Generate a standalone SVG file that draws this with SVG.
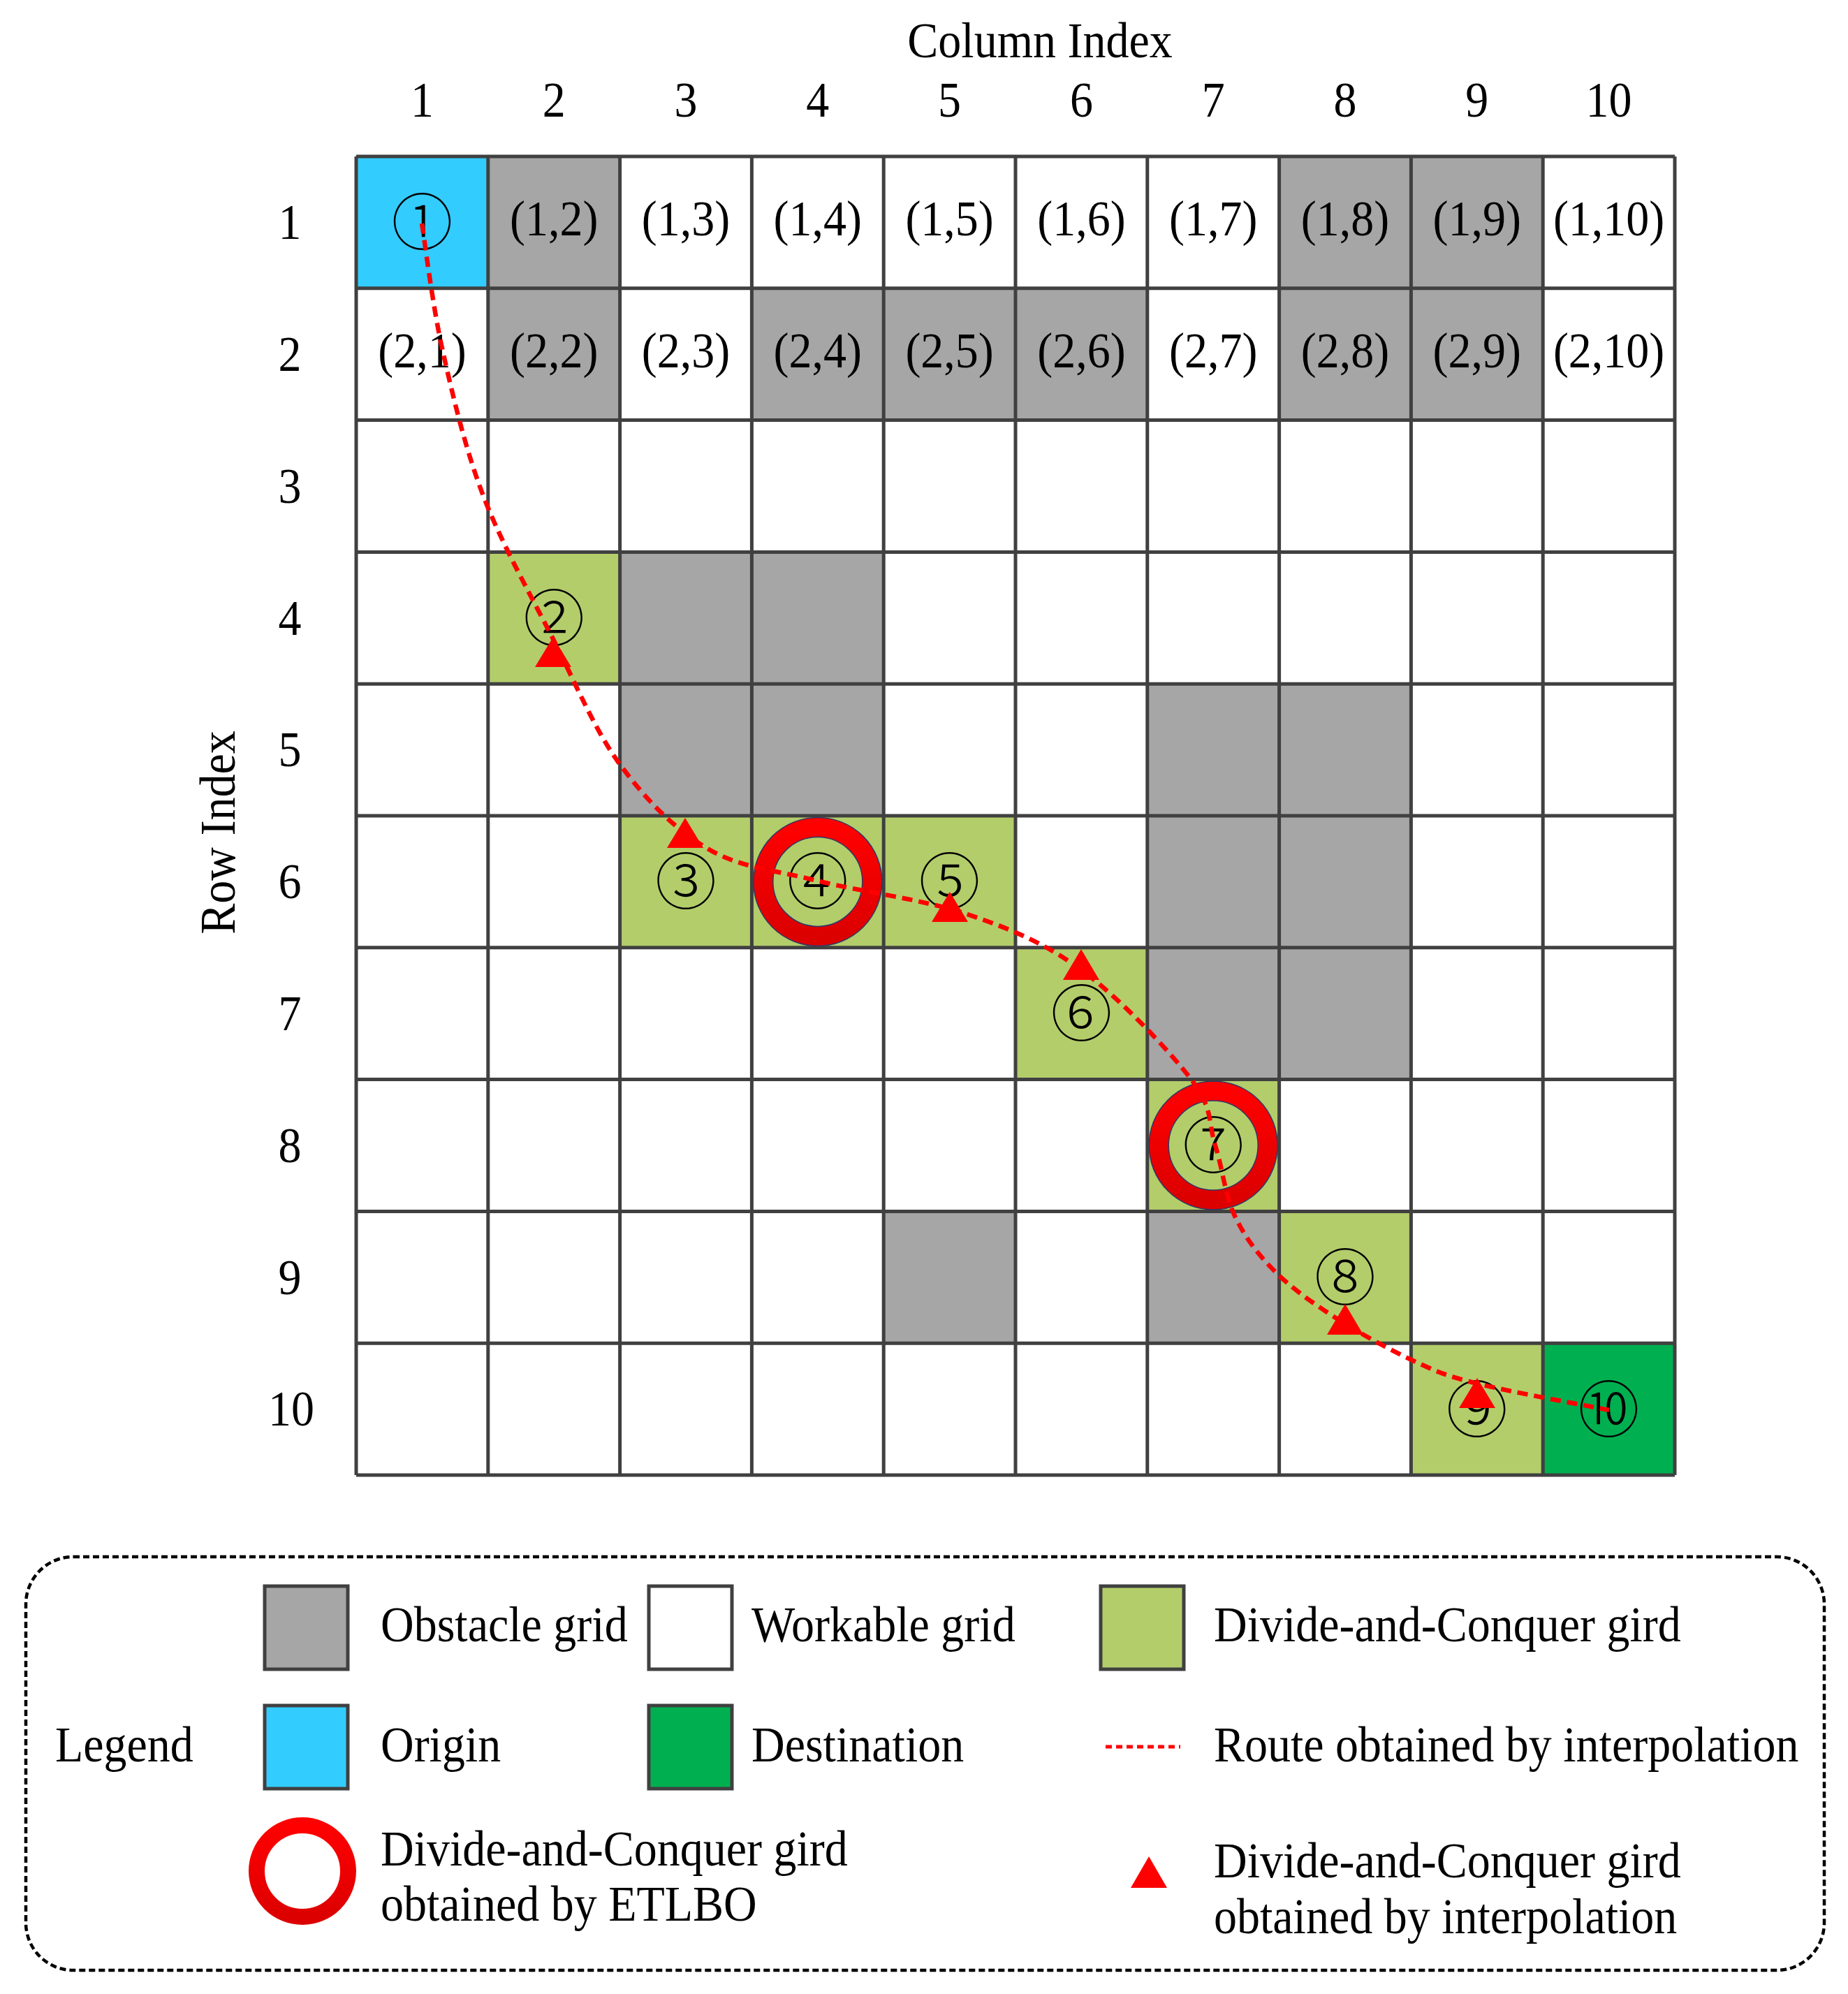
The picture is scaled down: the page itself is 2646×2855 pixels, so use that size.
<svg xmlns="http://www.w3.org/2000/svg" width="2646" height="2855" viewBox="0 0 2646 2855">
<style>
.t{font-family:"Liberation Serif","Times New Roman",serif;font-size:66px;fill:#000}
.m{text-anchor:middle}
.cn{font-family:"Noto Sans CJK SC","DejaVu Sans",sans-serif;font-size:88px;font-weight:300;fill:#000;text-anchor:middle}
.obs{fill:#A6A6A6}
.grn{fill:#B3CD6B}
.org{fill:#33CCFF}
.dst{fill:#00B050}
.lsq{stroke:#404040;stroke-width:5}
.ring{fill:none;stroke:url(#rg);stroke-width:28}
.ringe{fill:none;stroke:#2E3A66;stroke-width:1.5}
.tri{fill:#FF0000}
</style>
<defs>
<linearGradient id="rg" x1="0" y1="0" x2="0" y2="1">
<stop offset="0" stop-color="#FF0000"/>
<stop offset="1" stop-color="#DC0000"/>
</linearGradient>
</defs>
<rect width="2646" height="2855" fill="#fff"/>

<g id="axis-labels">
<text class="t m" transform="translate(1489,82) scale(1,1.1)">Column Index</text>
<text class="t m" transform="translate(604.4,167) scale(1,1.1)">1</text>
<text class="t m" transform="translate(793.2,167) scale(1,1.1)">2</text>
<text class="t m" transform="translate(982,167) scale(1,1.1)">3</text>
<text class="t m" transform="translate(1170.8,167) scale(1,1.1)">4</text>
<text class="t m" transform="translate(1359.6,167) scale(1,1.1)">5</text>
<text class="t m" transform="translate(1548.4,167) scale(1,1.1)">6</text>
<text class="t m" transform="translate(1737.2,167) scale(1,1.1)">7</text>
<text class="t m" transform="translate(1926,167) scale(1,1.1)">8</text>
<text class="t m" transform="translate(2114.8,167) scale(1,1.1)">9</text>
<text class="t m" transform="translate(2303.6,167) scale(1,1.1)">10</text>
<text class="t m" transform="translate(336,1192) rotate(-90) scale(1,1.1)">Row Index</text>
<text class="t m" transform="translate(415,342) scale(1,1.1)">1</text>
<text class="t m" transform="translate(415,531) scale(1,1.1)">2</text>
<text class="t m" transform="translate(415,720) scale(1,1.1)">3</text>
<text class="t m" transform="translate(415,909) scale(1,1.1)">4</text>
<text class="t m" transform="translate(415,1097) scale(1,1.1)">5</text>
<text class="t m" transform="translate(415,1286) scale(1,1.1)">6</text>
<text class="t m" transform="translate(415,1475) scale(1,1.1)">7</text>
<text class="t m" transform="translate(415,1664) scale(1,1.1)">8</text>
<text class="t m" transform="translate(415,1853) scale(1,1.1)">9</text>
<text class="t m" transform="translate(417,2041) scale(1,1.1)">10</text>
</g>

<g id="grid">
<rect x="510" y="224" width="1888" height="1888" fill="#fff"/>
<g id="obstacles" class="obs">
<rect x="698.8" y="224" width="188.8" height="188.8"/>
<rect x="1831.6" y="224" width="188.8" height="188.8"/>
<rect x="2020.4" y="224" width="188.8" height="188.8"/>
<rect x="698.8" y="412.8" width="188.8" height="188.8"/>
<rect x="1076.4" y="412.8" width="188.8" height="188.8"/>
<rect x="1265.2" y="412.8" width="188.8" height="188.8"/>
<rect x="1454" y="412.8" width="188.8" height="188.8"/>
<rect x="1831.6" y="412.8" width="188.8" height="188.8"/>
<rect x="2020.4" y="412.8" width="188.8" height="188.8"/>
<rect x="887.6" y="790.4" width="188.8" height="188.8"/>
<rect x="1076.4" y="790.4" width="188.8" height="188.8"/>
<rect x="887.6" y="979.2" width="188.8" height="188.8"/>
<rect x="1076.4" y="979.2" width="188.8" height="188.8"/>
<rect x="1642.8" y="979.2" width="188.8" height="188.8"/>
<rect x="1831.6" y="979.2" width="188.8" height="188.8"/>
<rect x="1642.8" y="1168" width="188.8" height="188.8"/>
<rect x="1831.6" y="1168" width="188.8" height="188.8"/>
<rect x="1642.8" y="1356.8" width="188.8" height="188.8"/>
<rect x="1831.6" y="1356.8" width="188.8" height="188.8"/>
<rect x="1265.2" y="1734.4" width="188.8" height="188.8"/>
<rect x="1642.8" y="1734.4" width="188.8" height="188.8"/>
</g>
<rect class="org" x="510" y="224" width="188.8" height="188.8"/>
<g class="grn">
<rect x="698.8" y="790.4" width="188.8" height="188.8"/>
<rect x="887.6" y="1168" width="188.8" height="188.8"/>
<rect x="1076.4" y="1168" width="188.8" height="188.8"/>
<rect x="1265.2" y="1168" width="188.8" height="188.8"/>
<rect x="1454" y="1356.8" width="188.8" height="188.8"/>
<rect x="1642.8" y="1545.6" width="188.8" height="188.8"/>
<rect x="1831.6" y="1734.4" width="188.8" height="188.8"/>
<rect x="2020.4" y="1923.2" width="188.8" height="188.8"/>
</g>
<rect class="dst" x="2209.2" y="1923.2" width="188.8" height="188.8"/>
<path fill="none" stroke="#404040" stroke-width="5" d="M510,224V2112M698.8,224V2112M887.6,224V2112M1076.4,224V2112M1265.2,224V2112M1454,224V2112M1642.8,224V2112M1831.6,224V2112M2020.4,224V2112M2209.2,224V2112M2398,224V2112M510,224H2398M510,412.8H2398M510,601.6H2398M510,790.4H2398M510,979.2H2398M510,1168H2398M510,1356.8H2398M510,1545.6H2398M510,1734.4H2398M510,1923.2H2398M510,2112H2398"/>
</g>

<g id="cell-labels">
<text class="t m" transform="translate(793.2,337) scale(1,1.1)">(1,2)</text>
<text class="t m" transform="translate(982,337) scale(1,1.1)">(1,3)</text>
<text class="t m" transform="translate(1170.8,337) scale(1,1.1)">(1,4)</text>
<text class="t m" transform="translate(1359.6,337) scale(1,1.1)">(1,5)</text>
<text class="t m" transform="translate(1548.4,337) scale(1,1.1)">(1,6)</text>
<text class="t m" transform="translate(1737.2,337) scale(1,1.1)">(1,7)</text>
<text class="t m" transform="translate(1926,337) scale(1,1.1)">(1,8)</text>
<text class="t m" transform="translate(2114.8,337) scale(1,1.1)">(1,9)</text>
<text class="t m" transform="translate(2303.6,337) scale(1,1.1)">(1,10)</text>
<text class="t m" transform="translate(604.4,526) scale(1,1.1)">(2,1)</text>
<text class="t m" transform="translate(793.2,526) scale(1,1.1)">(2,2)</text>
<text class="t m" transform="translate(982,526) scale(1,1.1)">(2,3)</text>
<text class="t m" transform="translate(1170.8,526) scale(1,1.1)">(2,4)</text>
<text class="t m" transform="translate(1359.6,526) scale(1,1.1)">(2,5)</text>
<text class="t m" transform="translate(1548.4,526) scale(1,1.1)">(2,6)</text>
<text class="t m" transform="translate(1737.2,526) scale(1,1.1)">(2,7)</text>
<text class="t m" transform="translate(1926,526) scale(1,1.1)">(2,8)</text>
<text class="t m" transform="translate(2114.8,526) scale(1,1.1)">(2,9)</text>
<text class="t m" transform="translate(2303.6,526) scale(1,1.1)">(2,10)</text>
</g>

<g id="etlbo-rings">
<g id="ring-4">
<circle class="ring" cx="1170.8" cy="1262.4" r="78"/>
<circle class="ringe" cx="1170.8" cy="1262.4" r="92"/>
<circle class="ringe" cx="1170.8" cy="1262.4" r="64"/>
</g>
<g id="ring-7">
<circle class="ring" cx="1737.2" cy="1640" r="78"/>
<circle class="ringe" cx="1737.2" cy="1640" r="92"/>
<circle class="ringe" cx="1737.2" cy="1640" r="64"/>
</g>
</g>

<g id="nodes">
<g id="n1"><text class="cn" x="604.4" y="350">①</text></g>
<g id="n2"><text class="cn" x="793.2" y="917">②</text></g>
<g id="n3"><text class="cn" x="982" y="1294">③</text></g>
<g id="n4"><text class="cn" x="1170.8" y="1294">④</text></g>
<g id="n5"><text class="cn" x="1359.6" y="1294">⑤</text></g>
<g id="n6"><text class="cn" x="1548.4" y="1483">⑥</text></g>
<g id="n7"><text class="cn" x="1737.2" y="1672">⑦</text></g>
<g id="n8"><text class="cn" x="1926" y="1861">⑧</text></g>
<g id="n9"><text class="cn" x="2114.8" y="2050">⑨</text></g>
<g id="n10"><text class="cn" x="2303.6" y="2050">⑩</text></g>
</g>

<g id="connectors">
<path id="route" fill="none" stroke="#FF0000" stroke-width="6.5" stroke-dasharray="15 9" d="M604,320 C609,350.5 619.3,438 634,503 C648.7,568 665.7,641.3 692,710 C718.3,778.7 759.3,850.8 792,915 C824.7,979.2 851.2,1045 888,1095 C924.8,1145 966,1187.3 1013,1215 C1060,1242.7 1108,1245.3 1170,1261 C1232,1276.7 1321.7,1287.5 1385,1309 C1448.3,1330.5 1496.5,1350.5 1550,1390 C1603.5,1429.5 1674.3,1504.3 1706,1546 C1737.7,1587.7 1729.7,1607.5 1740,1640 C1750.3,1672.5 1754,1711.2 1768,1741 C1782,1770.8 1800.2,1794.8 1824,1819 C1847.8,1843.2 1877.8,1864.5 1911,1886 C1944.2,1907.5 1989,1932.2 2023,1948 C2057,1963.8 2068.2,1969.2 2115,1981 C2161.8,1992.8 2272.5,2012.7 2304,2019"/>
</g>

<g id="interp-points" class="tri">
<polygon points="792,912 766,955 818,955"/>
<polygon points="981,1171 955,1214 1007,1214"/>
<polygon points="1360,1277 1334,1320 1386,1320"/>
<polygon points="1548,1359 1522,1403 1574,1403"/>
<polygon points="1926,1867 1900,1911 1952,1911"/>
<polygon points="2115,1973 2089,2016 2141,2016"/>
</g>

<g id="legend">
<rect x="37" y="2229" width="2575" height="592" rx="68" ry="68" fill="none" stroke="#000" stroke-width="4.5" stroke-dasharray="9 5"/>
<text class="t" transform="translate(79,2522) scale(1,1.1)">Legend</text>
<g id="leg-obstacle">
<rect class="obs lsq" x="379" y="2271" width="119" height="119"/>
<text class="t" transform="translate(545,2350) scale(1,1.1)">Obstacle grid</text>
</g>
<g id="leg-workable">
<rect class="lsq" fill="#fff" x="929" y="2271" width="119" height="119"/>
<text class="t" transform="translate(1076,2350) scale(1,1.1)">Workable grid</text>
</g>
<g id="leg-dc">
<rect class="grn lsq" x="1576" y="2271" width="119" height="119"/>
<text class="t" transform="translate(1738,2350) scale(1,1.1)">Divide-and-Conquer gird</text>
</g>
<g id="leg-origin">
<rect class="org lsq" x="379" y="2442" width="119" height="119"/>
<text class="t" transform="translate(545,2522) scale(1,1.1)">Origin</text>
</g>
<g id="leg-dest">
<rect class="dst lsq" x="929" y="2442" width="119" height="119"/>
<text class="t" transform="translate(1076,2522) scale(1,1.1)">Destination</text>
</g>
<g id="leg-route">
<line x1="1583" y1="2501" x2="1690" y2="2501" stroke="#FF0000" stroke-width="5" stroke-dasharray="9 6"/>
<text class="t" transform="translate(1738,2522) scale(1,1.1)">Route obtained by interpolation</text>
</g>
<g id="leg-etlbo">
<circle fill="none" stroke="url(#rg)" stroke-width="23" cx="433" cy="2679" r="65.5"/>
<text class="t" transform="translate(545,2671) scale(1,1.1)">Divide-and-Conquer gird</text>
<text class="t" transform="translate(545,2750) scale(1,1.1)">obtained by ETLBO</text>
</g>
<g id="leg-interp">
<polygon class="tri" points="1645,2658 1619,2703 1671,2703"/>
<text class="t" transform="translate(1738,2688) scale(1,1.1)">Divide-and-Conquer gird</text>
<text class="t" transform="translate(1738,2768) scale(1,1.1)">obtained by interpolation</text>
</g>
</g>
</svg>
